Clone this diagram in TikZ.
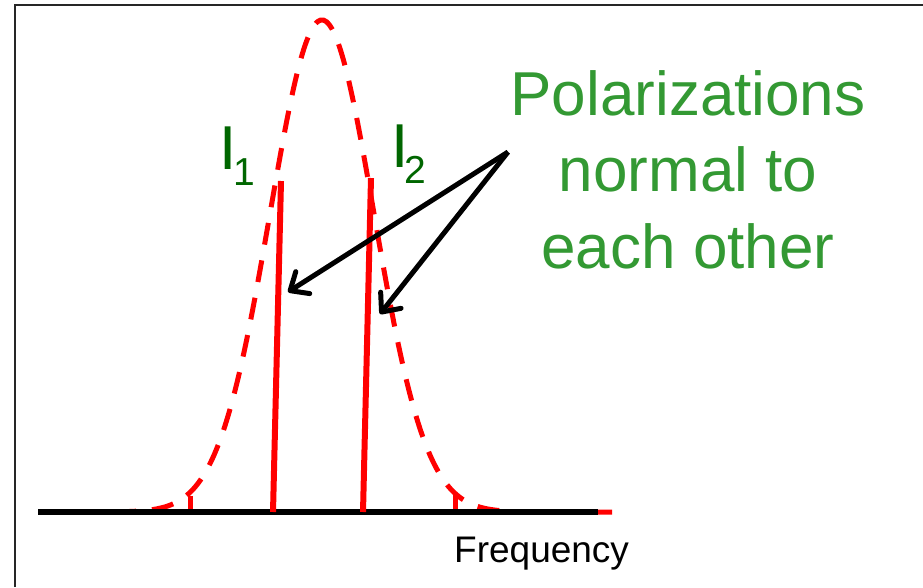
\documentclass[tikz,border=0pt]{standalone}
\usepackage{fontspec}
\setmainfont{Liberation Sans}
\usetikzlibrary{arrows.meta}
\definecolor{txtgreen}{RGB}{51,153,51}
\definecolor{lblgreen}{RGB}{0,102,0}
\tikzset{
  gauss/.style={red, line width=5pt, dash pattern=on 22pt off 16pt},
  line/.style={red, line width=6pt},
  pointer/.style={black, line width=5pt, -{Straight Barb[length=15pt,width=26pt,line width=5pt,round]}},
  bigtxt/.style={text=txtgreen, font=\fontsize{62}{74}\selectfont, inner sep=0pt, anchor=base},
  lbl/.style={text=lblgreen, font=\fontsize{62}{74}\selectfont, inner sep=0pt, anchor=base west},
}
\newcommand{\subnum}[1]{\raisebox{-16pt}{\fontsize{39}{44}\selectfont #1}}
\begin{document}
\begin{tikzpicture}[x=1pt,y=-1pt]
\useasboundingbox (0,0) rectangle (923,587);
\fill[white] (0,0) rectangle (923,587);
% frame
\draw[line width=1.5pt, black!85] (15,587) -- (15,5) -- (923,5);
% gaussian
\draw[gauss] plot[domain=-5.46:5.58, samples=200, smooth] ({322+52*\x},{512-492*exp(-(\x*\x)/2)});
\draw[red, line width=5pt] (190,512) -- (190,496);
\draw[red, line width=5pt] (455,512) -- (455,494);
% baseline
\coordinate (bl) at (38,512);
\coordinate (br) at (598,512);
\draw[black, line width=6pt] (bl) -- (br);
% lines
\coordinate (l1b) at (273,512);
\coordinate (l1t) at (281,181);
\coordinate (l2b) at (363,512);
\coordinate (l2t) at (371,178);
\draw[line] (l1b) -- (l1t);
\draw[line] (l2b) -- (l2t);
% labels
\node[lbl] (I1) at (219,169) {I\hspace{-3pt}\subnum{1}};
\node[lbl] (I2) at (391,167) {I\hspace{-4pt}\subnum{2}};
% text
\node[bigtxt] (t1) at (688,115) {Polarizations};
\node[bigtxt] (t2) at (688,191) {normal to};
\node[bigtxt] (t3) at (688,268) {each other};
\node[font=\fontsize{37}{44}\selectfont, inner sep=0pt, anchor=base west] (freq) at (454,562) {Frequency};
% arrows
\coordinate (src) at (508,152);
\coordinate (tip1) at (288,292);
\coordinate (tip2) at (380,314);
\draw[pointer] (src) -- (tip1);
\draw[pointer] (src) -- (tip2);
\end{tikzpicture}
\end{document}
